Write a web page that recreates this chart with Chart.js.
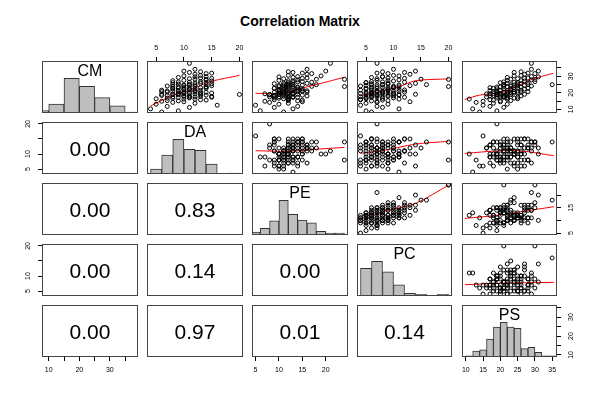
<!DOCTYPE html>
<html>
<head>
<meta charset="utf-8">
<title>Correlation Matrix</title>
<script src="https://cdn.jsdelivr.net/npm/chart.js@4.4.1/dist/chart.umd.min.js"></script>
<style>
  body { margin: 0; background: #fff; }
  #wrap { position: relative; width: 600px; height: 400px; font-family: "Liberation Sans", Arial, Helvetica, sans-serif; }
  #wrap canvas { position: absolute; left: 0; top: 0; }
  #title { position: absolute; left: 0; top: 14px; width: 600px; text-align: center; font-weight: bold; font-size: 14px; line-height: 14px; }
</style>
</head>
<body>
<div id="wrap"><div id="title">Correlation Matrix</div></div>
<script>
// variables (one value per observation, same order in every array)
const names = ['CM', 'DA', 'PE', 'PC', 'PS'];
const CM = [8.4,9.1,10.3,11.2,11.8,12.5,13.1,13.7,14.2,14.6, 15.3,15.8,15.1,14.9,16.2,16.7,15.6,16.4,16.9,17.2,
            17.5,16.8,17.9,17.3,17.6,18.1,18.4,17.7,18.8,18.2, 18.6,18.9,17.4,18.5,19.3,19.7,18.7,19.1,19.5,19.9,
            19.2,19.6,19.4,20.1,20.4,19.8,20.6,20.3,20.8,20.2, 20.7,19.6,20.5,20.9,16.1,17.8,19.0,21.3,21.7,21.1,
            21.5,21.9,21.2,22.3,22.7,22.1,22.9,22.5,21.6,22.4, 23.2,23.6,22.8,23.9,23.4,23.1,23.7,24.3,24.6,24.1,
            24.8,24.4,23.5,25.3,25.7,24.9,25.1,25.5,24.7,21.4, 26.2,26.6,25.9,26.4,27.1,27.5,26.8,27.3,28.2,27.8,
            28.5,28.9,29.3,28.7,29.6,30.2,29.8,30.5,26.1,31.2, 31.6,32.3,31.9,33.1,32.7,34.2,28.1,23.8,24.9,37.8];
const DA = [6,9,4,11,7,16,5,12,8,10, 7,13,9,6,10,8,14,5,11,9, 12,7,10,15,8,11,6,13,9,10,
            14,8,11,7,12,9,13,6,10,15, 8,11,9,13,7,10,12,14,9,11, 6,13,10,8,12,15,20,9,11,7,
            13,10,12,8,14,11,9,12,6,10, 11,14,8,12,10,13,9,15,11,7, 12,10,14,9,13,8,11,15,10,12,
            14,9,12,11,15,10,13,8,12,14, 11,13,9,15,12,10,14,13,8,12, 14,11,15,10,13,12,14,8,14,11];
const PE = [11,6,13,9,14,5,10,12,8,15, 12,9,14,7,12,10,15,11,9,13, 8,12,11,14,10,16,9,13,11,12,
            15,10,12,9,13,11,8,14,12,10, 13,11,7,12,16,10,14,9,11,12, 10,13,11,15,12,9,8,14,11,13,
            12,10,16,11,9,14,12,13,10,15, 11,13,9,17,12,14,10,12,15,11, 13,10,14,12,16,11,13,9,12,15,
            12,14,11,17,13,10,15,12,18,14, 11,16,13,15,10,19,14,12,13,16, 17,13,15,20,12,16,24,24,18,21];
const PC = [6,5,11,8,7,4,9,5,7,13, 9,4,6,7,11,8,8,5,10,6, 7,5,9,12,4,10,6,8,11,7,
            11,7,5,9,6,10,5,14,8,6, 10,4,6,8,12,9,7,5,11,6, 8,5,7,10,4,6,7,9,12,7,
            6,9,8,5,7,11,10,6,4,9, 8,11,5,10,6,9,7,13,8,4, 7,5,10,9,14,6,8,6,11,7,
            5,8,9,12,10,7,6,9,15,11, 7,9,6,12,8,11,8,10,5,13, 9,12,7,14,8,10,20,20,16,7];
const PS = [14,19,12,21,17,15,22,18,13,20, 23,17,20,15,11,22,18,25,19,21, 16,24,19,22,20,26,18,21,23,17,
            22,19,25,20,16,23,21,27,18,24, 20,22,17,25,21,19,28,23,18,22, 24,20,26,19,22,21,19,17,23,25,
            20,24,22,27,18,23,25,21,26,19, 24,20,28,23,26,17,22,25,21,29, 23,27,19,25,22,28,21,26,24,20,
            25,21,28,24,27,22,30,26,23,29, 25,28,22,27,31,24,29,26,20,27, 30,24,28,31,26,29,30,21,35,29];
const series = { CM, DA, PE, PC, PS };

// histogram breaks and counts (diagonal panels)
const breaksCM = [5,10,15,20,25,30,35,40];            const countsCM = [3,11,43,33,19,9,1];
const breaksDA = [4,6,8,10,12,14,16,18,20];           const countsDA = [5,19,35,25,24,10,0,1];
const breaksPE = [4,6,8,10,12,14,16,18,20,22,24];     const countsPE = [3,7,15,37,22,16,13,4,2,2];
const breaksPC = [4,6,8,10,12,14,16,18,20];           const countsPC = [32,40,28,13,3,2,0,2];
const breaksPS = [10,12,14,16,18,20,22,24,26,28,30,32,34,36];
const countsPS = [1,5,6,15,25,29,25,24,7,8,4,1,1];
const hists = { CM: [breaksCM, countsCM], DA: [breaksDA, countsDA], PE: [breaksPE, countsPE], PC: [breaksPC, countsPC], PS: [breaksPS, countsPS] };

// smoothed (red) lines, [x, y]
const loCM_DA = [[4,12],[7,17],[9,19.5],[11,21.5],[13,24.5],[15,27],[20,30.5]];
const loCM_PE = [[5,19.7],[9,19.6],[12,20.2],[14.5,22.5],[19,25.7],[24,29.4]];
const loCM_PC = [[4,18.2],[7,20.3],[11,23.7],[14,27.3],[20,28.4]];
const loCM_PS = [[9.7,16],[14,18.6],[19.8,20],[23.6,22.7],[28.6,27.7],[35.3,31.8]];
const loDA_PE = [[5,11.1],[12,10.9],[18,11.6],[24,12.2]];
const loDA_PC = [[4,10.3],[8,11.1],[14,13.3],[20,14.2]];
const loDA_PS = [[9.7,10.2],[19.8,11.1],[25.7,11.1],[35.5,9.4]];
const loPE_PC = [[4,9.4],[8,13.4],[14,16.7],[20,23.9]];
const loPE_PS = [[9.7,10.8],[19.8,12.1],[25.7,13.4],[35.5,15.4]];
const loPC_PS = [[9.7,7.1],[19.8,7.6],[35.5,7.9]];
const fits = { CM_DA: loCM_DA, CM_PE: loCM_PE, CM_PC: loCM_PC, CM_PS: loCM_PS, DA_PE: loDA_PE,
               DA_PC: loDA_PC, DA_PS: loDA_PS, PE_PC: loPE_PC, PE_PS: loPE_PS, PC_PS: loPC_PS };

// numbers in the lower panels
const pValues = [['0.00'], ['0.00', '0.83'], ['0.00', '0.14', '0.00'], ['0.00', '0.97', '0.01', '0.14']];

// axis ranges and ticks
const limits = { CM: [7.8, 39.2], DA: [3.36, 20.64], PE: [4.24, 24.76], PC: [3.36, 20.64], PS: [8.9, 36.4] };
const ticksOf = { CM: [10,15,20,25,30,35], DA: [5,10,15,20], PE: [5,10,15,20], PC: [5,10,15,20], PS: [10,15,20,25,30,35] };
const xLabelled = { CM: [10,20,30], DA: [5,10,15,20], PE: [5,10,15,20], PC: [5,10,15,20], PS: [10,15,20,25,30,35] };
const yLabelled = { CM: [10,20,30], DA: [5,10,20], PE: [5,15], PC: [5,10,20], PS: [10,20,30] };

// layout
const colX = [42, 147, 252, 357, 462];
const colW = [96, 96, 96, 95, 95];
const rowY = [61, 122, 183, 244, 305];
const H = 52;
const AX = 24;
const FONT = '"Liberation Sans", Arial, Helvetica, sans-serif';
Chart.defaults.font.family = FONT;

Chart.register({
  id: 'panel',
  afterDraw(chart, args, opts) {
    const { ctx, chartArea: a } = chart;
    ctx.save();
    ctx.strokeStyle = '#444';
    ctx.lineWidth = 1;
    ctx.strokeRect(a.left + 0.5, a.top + 0.5, a.right - a.left - 1, a.bottom - a.top - 1);
    if (opts.text) {
      ctx.fillStyle = '#000';
      ctx.textAlign = 'center';
      ctx.textBaseline = 'alphabetic';
      ctx.font = opts.size + 'px ' + FONT;
      const cx = (a.left + a.right) / 2;
      const y = opts.atTop ? a.top + 15 : (a.top + a.bottom) / 2 + opts.size * 0.358;
      ctx.fillText(opts.text, cx, y);
    }
    ctx.restore();
  }
});

function axisScale(v, pos, horizontal) {
  const [min, max] = limits[v];
  const s = { type: 'linear', min, max, offset: false, display: !!pos,
              grid: { display: false }, border: { display: false }, ticks: { display: false } };
  if (!pos) return s;
  const shown = horizontal ? xLabelled[v] : yLabelled[v];
  return Object.assign(s, {
    position: pos,
    afterBuildTicks: sc => { sc.ticks = ticksOf[v].map(value => ({ value })); },
    afterFit: sc => { if (horizontal) sc.height = AX; else sc.width = AX; },
    grid: { display: true, drawOnChartArea: false, drawTicks: true, tickLength: 4, tickWidth: 1, tickColor: '#000', offset: false },
    ticks: { display: true, autoSkip: false, minRotation: horizontal ? 0 : 90, maxRotation: horizontal ? 0 : 90,
             crossAlign: horizontal ? 'near' : 'center', padding: horizontal ? 5 : 6, color: '#000',
             font: { size: 7 }, callback: val => shown.includes(val) ? String(val) : '' }
  });
}

function baseOptions() {
  return { responsive: false, animation: false, devicePixelRatio: 1, events: [],
           plugins: { legend: { display: false }, tooltip: { enabled: false } } };
}

function scatterConfig(xv, yv, axes) {
  const X = series[xv], Y = series[yv];
  const opts = baseOptions();
  opts.scales = { x: axisScale(xv, axes.top ? 'top' : axes.bottom ? 'bottom' : null, true),
                  y: axisScale(yv, axes.left ? 'left' : axes.right ? 'right' : null, false) };
  return {
    type: 'scatter',
    data: { datasets: [
      { data: X.map((x, i) => ({ x, y: Y[i] })), pointRadius: 2, pointBorderWidth: 1,
        pointBorderColor: '#000', pointBackgroundColor: 'rgba(0,0,0,0)', showLine: false },
      { data: fits[yv + '_' + xv].map(([x, y]) => ({ x, y })), showLine: true, pointRadius: 0,
        borderColor: '#ff0000', borderWidth: 1, tension: 0.3 }
    ] },
    options: opts
  };
}

function histConfig(v, axes) {
  const [breaks, counts] = hists[v];
  const opts = baseOptions();
  opts.scales = {
    x: axisScale(v, axes.bottom ? 'bottom' : null, true),
    y: { type: 'linear', min: 0, max: Math.max(...counts) * 1.5, display: false },
    yAx: axisScale(v, axes.right ? 'right' : null, false)
  };
  opts.plugins.panel = { text: v, size: 16, atTop: true };
  return {
    type: 'bar',
    data: { datasets: [{
      data: counts.map((n, i) => ({ x: (breaks[i] + breaks[i + 1]) / 2, y: n })),
      yAxisID: 'y', backgroundColor: '#bebebe', borderColor: '#333', borderWidth: 1,
      borderSkipped: false, barPercentage: 1, categoryPercentage: 1
    }] },
    options: opts
  };
}

function textConfig(xv, yv, label, axes) {
  const opts = baseOptions();
  opts.scales = { x: axisScale(xv, axes.bottom ? 'bottom' : null, true),
                  y: axisScale(yv, axes.left ? 'left' : null, false) };
  opts.plugins.panel = { text: label, size: 21 };
  return { type: 'scatter', data: { datasets: [{ data: [] }] }, options: opts };
}

const wrap = document.getElementById('wrap');
for (let r = 0; r < 5; r++) {
  for (let c = 0; c < 5; c++) {
    const axes = { top: r === 0 && c % 2 === 1, bottom: r === 4 && c % 2 === 0,
                   left: c === 0 && r % 2 === 1, right: c === 4 && r % 2 === 0 };
    const xv = names[c], yv = names[r];
    const cfg = r === c ? histConfig(xv, axes) : r < c ? scatterConfig(xv, yv, axes) : textConfig(xv, yv, pValues[r - 1][c], axes);
    const L = colX[c], T = rowY[r], R = L + colW[c], B = T + H;
    cfg.options.layout = { padding: {
      left: L - (axes.left ? AX : 0), top: T - (axes.top ? AX : 0),
      right: 600 - R - (axes.right ? AX : 0), bottom: 400 - B - (axes.bottom ? AX : 0) } };
    const cv = document.createElement('canvas');
    cv.width = 600; cv.height = 400;
    wrap.appendChild(cv);
    new Chart(cv, cfg);
  }
}
</script>
</body>
</html>
